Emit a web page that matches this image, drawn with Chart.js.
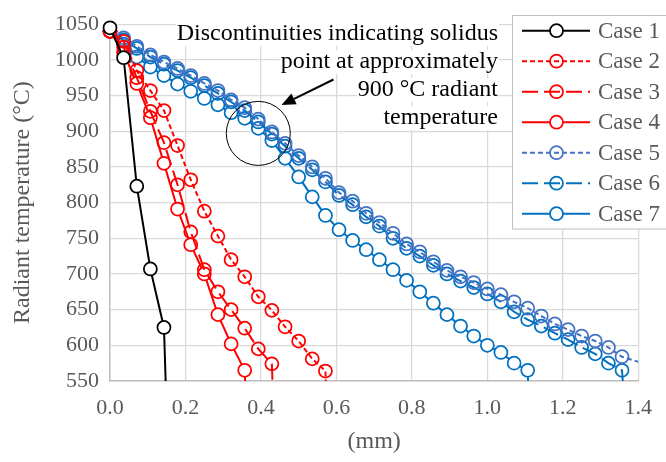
<!DOCTYPE html>
<html><head><meta charset="utf-8">
<script src="https://cdn.jsdelivr.net/npm/chart.js@4.4.1/dist/chart.umd.min.js"></script>
<style>html,body{margin:0;padding:0;background:#fff;}#wrap{width:666px;height:462px;}</style>
</head><body><div id="wrap"><canvas id="c" width="666" height="462"></canvas></div>
<script>
// depth grid (mm) shared by all series; each series uses the first N positions
const depth = [0, 0.036, 0.071, 0.107, 0.143, 0.179, 0.214, 0.25, 0.286, 0.321, 0.357, 0.393, 0.429, 0.464, 0.5, 0.536, 0.571, 0.607, 0.643, 0.679, 0.714, 0.75, 0.786, 0.821, 0.857, 0.893, 0.929, 0.964, 1.0, 1.036, 1.071, 1.107, 1.143, 1.179, 1.214, 1.25, 1.286, 1.321, 1.357, 1.43];

const case1 = [1045, 1003, 823, 707, 625, 25];
const case2 = [1040, 1026, 985, 957, 929, 880, 832, 788, 753, 720, 696, 668, 649, 626, 606, 581, 564, 25];
const case3 = [1040, 1018, 975, 928, 884, 825, 759, 706, 675, 650, 624, 595, 574, 25];
const case4 = [1040, 1010, 967, 919, 855, 791, 741, 700, 643, 602, 565, 25];
const case5 = [1040, 1031, 1019, 1007, 997, 988, 978, 967, 957, 944, 933, 917, 899, 883, 866, 850, 834, 814, 802, 785, 772, 757, 742, 731, 717, 705, 696, 688, 679, 671, 661, 652, 641, 630, 622, 613, 606, 597, 584, 572];
const case6 = [1040, 1028, 1016, 1004, 994, 985, 975, 964, 953, 941, 929, 913, 896, 879, 862, 846, 829, 810, 797, 780, 767, 750, 736, 725, 712, 700, 690, 681, 672, 661, 647, 636, 627, 617, 608, 597, 588, 575, 565, 25];
const case7 = [1040, 1022, 1004, 990, 978, 966, 956, 946, 937, 926, 918, 904, 887, 862, 836, 808, 782, 762, 747, 734, 720, 706, 691, 675, 659, 643, 627, 613, 600, 590, 575, 565, 25];

const seriesNames = ['Case 1', 'Case 2', 'Case 3', 'Case 4', 'Case 5', 'Case 6', 'Case 7'];
const xTicks = [0, 0.2, 0.4, 0.6, 0.8, 1.0, 1.2, 1.4];
const yTicks = [550, 600, 650, 700, 750, 800, 850, 900, 950, 1000, 1050];
const xTitle = '(mm)';
const yTitle = 'Radiant temperature (°C)';
const noteLines = ['Discontinuities indicating solidus', 'point at approximately', '900 °C radiant', 'temperature'];

const FONT = "'Liberation Serif', 'Times New Roman', serif";
const styles = [
  {c:'#000000', d:[], fill:'#ffffff'},
  {c:'#FF0000', d:[5,3], fill:'rgba(0,0,0,0)'},
  {c:'#FF0000', d:[16,6], fill:'rgba(0,0,0,0)'},
  {c:'#FF0000', d:[], fill:'#ffffff'},
  {c:'#4472C4', d:[5,3], fill:'rgba(0,0,0,0)'},
  {c:'#0070C0', d:[16,6], fill:'rgba(0,0,0,0)'},
  {c:'#0070C0', d:[], fill:'#ffffff'}
];
const allSeries = [case1, case2, case3, case4, case5, case6, case7];

const datasets = allSeries.map((vals, i) => ({
  label: seriesNames[i],
  data: vals.map((v, k) => ({x: depth[k], y: v})),
  borderColor: styles[i].c,
  borderWidth: 2,
  borderDash: styles[i].d,
  pointRadius: 6.5,
  pointBorderWidth: 1.75,
  pointBorderColor: styles[i].c,
  pointBackgroundColor: styles[i].fill,
  tension: 0,
  clip: {left: 10, top: 10, right: 0, bottom: 0}
}));

const decor = {
  id: 'decor',
  beforeDatasetsDraw(chart) {
    const ctx = chart.ctx;
    ctx.save();
    ctx.font = '24px ' + FONT;
    ctx.textAlign = 'right';
    ctx.textBaseline = 'alphabetic';
    const rightX = 498, base = [40, 68, 96, 124];
    noteLines.forEach((t, i) => {
      const w = ctx.measureText(t).width;
      ctx.fillStyle = '#ffffff';
      ctx.fillRect(rightX - w - 1, base[i] - 18, w + 2, 24);
      ctx.fillStyle = '#000000';
      ctx.fillText(t, rightX, base[i]);
    });
    ctx.restore();
  },
  afterDraw(chart) {
    const ctx = chart.ctx;
    const xs = chart.scales.x, ys = chart.scales.y;
    ctx.save();
    ctx.strokeStyle = '#000'; ctx.lineWidth = 1;
    ctx.beginPath();
    ctx.arc(xs.getPixelForValue(0.393), ys.getPixelForValue(897), 32, 0, Math.PI*2);
    ctx.stroke();
    const tx = 333.5, ty = 79.5, hx = 281.5, hy = 105;
    const ang = Math.atan2(hy - ty, hx - tx);
    const hl = 14, hw = 6;
    const bx = hx - hl*Math.cos(ang), by = hy - hl*Math.sin(ang);
    ctx.lineWidth = 2;
    ctx.beginPath(); ctx.moveTo(tx, ty); ctx.lineTo(bx, by); ctx.stroke();
    ctx.fillStyle = '#000';
    ctx.beginPath();
    ctx.moveTo(hx, hy);
    ctx.lineTo(bx + hw*Math.sin(ang), by - hw*Math.cos(ang));
    ctx.lineTo(bx - hw*Math.sin(ang), by + hw*Math.cos(ang));
    ctx.closePath(); ctx.fill();
    const lx = 512.5, ly = 15.5, lw = 200, lh = 213.5;
    ctx.fillStyle = '#fff'; ctx.fillRect(lx, ly, lw, lh);
    ctx.strokeStyle = '#bfbfbf'; ctx.lineWidth = 1; ctx.strokeRect(lx, ly, lw, lh);
    ctx.font = '23px ' + FONT;
    ctx.textAlign = 'left'; ctx.textBaseline = 'middle';
    chart.data.datasets.forEach((ds, i) => {
      const y = 30.7 + i*30.5;
      ctx.strokeStyle = ds.borderColor; ctx.lineWidth = 2;
      ctx.setLineDash(ds.borderDash);
      ctx.beginPath(); ctx.moveTo(522, y); ctx.lineTo(590, y); ctx.stroke();
      ctx.setLineDash([]);
      ctx.beginPath(); ctx.arc(556.5, y, 6.5, 0, Math.PI*2);
      ctx.fillStyle = ds.pointBackgroundColor; ctx.fill();
      ctx.lineWidth = 1.75; ctx.stroke();
      ctx.fillStyle = '#595959';
      ctx.fillText(ds.label, 598, y + 1);
    });
    ctx.restore();
  }
};

new Chart(document.getElementById('c'), {
  type: 'line',
  data: {datasets},
  options: {
    responsive: false, animation: false, devicePixelRatio: 1,
    layout: {padding: {left: 0, right: 24, top: 16, bottom: 0}},
    plugins: {legend: {display: false}, tooltip: {enabled: false}},
    scales: {
      x: {
        type: 'linear', min: xTicks[0], max: xTicks[xTicks.length-1],
        afterBuildTicks: s => { s.ticks = xTicks.map(v => ({value: v})); },
        afterFit: s => { s.height = 81; },
        ticks: {callback: v => Number(v).toFixed(1), font: {family: FONT, size: 22}, color: '#595959', padding: 14, maxRotation: 0},
        grid: {color: '#d9d9d9', lineWidth: 1.25, drawTicks: false},
        border: {color: '#bfbfbf', width: 1.5},
        title: {display: true, text: xTitle, font: {family: FONT, size: 24}, color: '#595959', padding: {top: 0, bottom: 6}}
      },
      y: {
        type: 'linear', min: yTicks[0], max: yTicks[yTicks.length-1],
        afterBuildTicks: s => { s.ticks = yTicks.map(v => ({value: v})); },
        afterFit: s => { s.width = 110; },
        ticks: {callback: v => String(v), font: {family: FONT, size: 22}, color: '#595959', padding: 11},
        grid: {color: '#d9d9d9', lineWidth: 1.25, drawTicks: false},
        border: {color: '#bfbfbf', width: 1.5},
        title: {display: true, text: yTitle, font: {family: FONT, size: 24}, color: '#595959', padding: {top: 8, bottom: 0}}
      }
    }
  },
  plugins: [decor]
});
</script></body></html>
